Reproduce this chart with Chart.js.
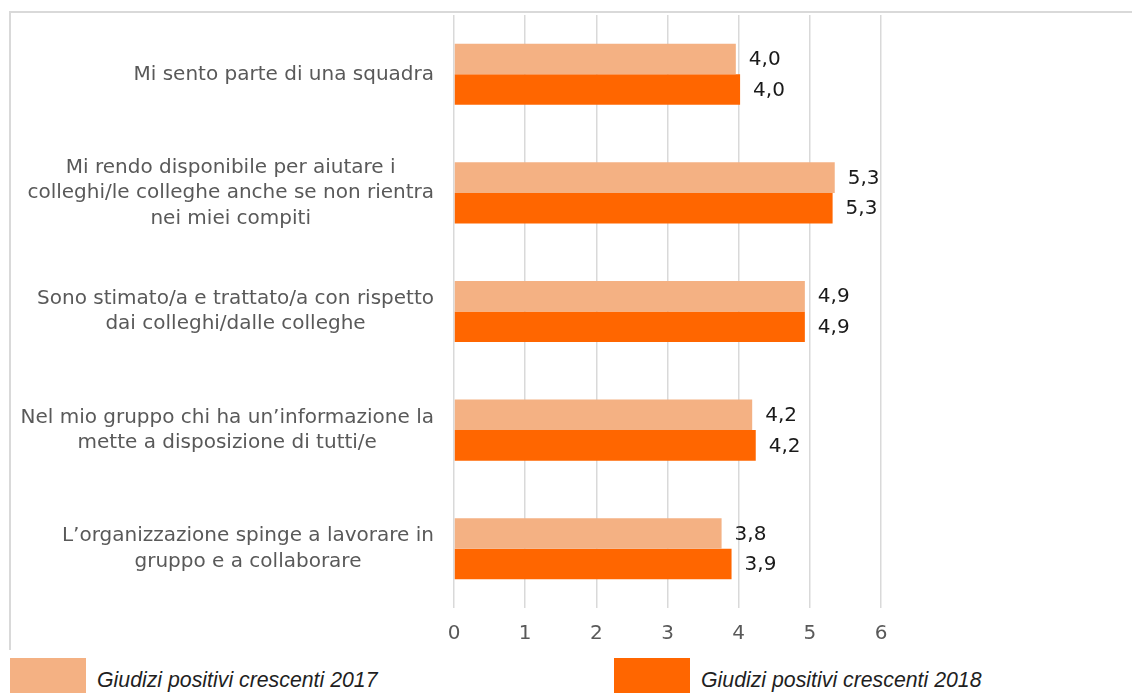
<!DOCTYPE html>
<html lang="it">
<head>
<meta charset="utf-8">
<title>Giudizi positivi crescenti</title>
<script src="https://cdn.jsdelivr.net/npm/chart.js@4/dist/chart.umd.min.js"></script>
<style>
    html, body {
        margin: 0;
        padding: 0;
        background: #ffffff;
        width: 1132px;
        height: 693px;
        overflow: hidden;
        position: relative;
    }

    #wrap {
        position: absolute;
        left: 0;
        top: 0;
        width: 1132px;
        height: 650px;
    }

    .legend-item {
        position: absolute;
        top: 658px;
        height: 36px;
    }

    .legend-box {
        position: absolute;
        left: 0;
        top: 0;
        width: 76px;
        height: 40px;
    }

    .legend-text {
        position: absolute;
        left: 87px;
        top: 10px;
        white-space: nowrap;
        font-family: "Liberation Sans", Arial, sans-serif;
        font-style: italic;
        font-size: 21.3px;
        color: #1f1f1f;
    }
</style>
</head>
<body>

<div id="wrap">
    <canvas id="chart" width="1132" height="650"></canvas>
</div>

<div id="legend"></div>

<script>
/*
|--------------------------------------------------------------------------
| Dati
|--------------------------------------------------------------------------
*/

const categories = [
    ["Mi sento parte di una squadra"],
    ["Mi rendo disponibile per aiutare i", "colleghi/le colleghe anche se non rientra", "nei miei compiti"],
    ["Sono stimato/a e trattato/a con rispetto", "dai colleghi/dalle colleghe"],
    ["Nel mio gruppo chi ha un\u2019informazione la", "mette a disposizione di tutti/e"],
    ["L\u2019organizzazione spinge a lavorare in", "gruppo e a collaborare"]
];

const values2017 = [3.96, 5.35, 4.93, 4.19, 3.76];

const values2018 = [4.02, 5.32, 4.93, 4.24, 3.90];

const seriesNames = ["Giudizi positivi crescenti 2017", "Giudizi positivi crescenti 2018"];

const seriesColors = ["#F4B183", "#FF6600"];

const tickValues = [0, 1, 2, 3, 4, 5, 6];


/*
|--------------------------------------------------------------------------
| Plugin: cornice, etichette categorie, etichette valori
|--------------------------------------------------------------------------
*/

const framePlugin = {

    id: "frame",

    beforeDraw(chart) {

        const ctx = chart.ctx;

        ctx.save();
        ctx.strokeStyle = "#d9d9d9";
        ctx.lineWidth = 2;
        ctx.beginPath();
        ctx.moveTo(10, 650);
        ctx.lineTo(10, 12);
        ctx.lineTo(1132, 12);
        ctx.stroke();
        ctx.restore();

    }

};

const categoryLabelsPlugin = {

    id: "categoryLabels",

    afterDraw(chart) {

        const ctx = chart.ctx;
        const yScale = chart.scales.y;
        const lineHeight = 25.5;
        const right = 434;

        ctx.save();
        ctx.font = "20px 'DejaVu Sans', Verdana, sans-serif";
        ctx.fillStyle = "#595959";
        ctx.textBaseline = "middle";
        ctx.textAlign = "center";

        chart.data.labels.forEach((lines, i) => {

            const cy = yScale.getPixelForTick(i);
            const widest = Math.max(...lines.map((l) => ctx.measureText(l).width));
            const cx = right - widest / 2;
            const startY = cy - ((lines.length - 1) * lineHeight) / 2;

            lines.forEach((line, j) => {
                ctx.fillText(line, cx, startY + j * lineHeight);
            });

        });

        ctx.restore();

    }

};

const valueLabelsPlugin = {

    id: "valueLabels",

    afterDatasetsDraw(chart) {

        const ctx = chart.ctx;

        ctx.save();
        ctx.font = "20px 'DejaVu Sans', Verdana, sans-serif";
        ctx.fillStyle = "#1a1a1a";
        ctx.textBaseline = "middle";
        ctx.textAlign = "left";

        chart.data.datasets.forEach((dataset, d) => {

            const meta = chart.getDatasetMeta(d);

            meta.data.forEach((bar, i) => {

                const text = dataset.data[i].toFixed(1).replace(".", ",");
                ctx.fillText(text, bar.x + 13, bar.y + 1);

            });

        });

        ctx.restore();

    }

};


/*
|--------------------------------------------------------------------------
| Grafico
|--------------------------------------------------------------------------
*/

const chart = new Chart(document.getElementById("chart"), {

    type: "bar",

    data: {

        labels: categories,

        datasets: [

            {
                label: seriesNames[0],
                data: values2017,
                backgroundColor: seriesColors[0],
                borderWidth: 0
            },

            {
                label: seriesNames[1],
                data: values2018,
                backgroundColor: seriesColors[1],
                borderWidth: 0
            }

        ]

    },

    options: {

        indexAxis: "y",

        responsive: false,

        animation: false,

        layout: {
            padding: { left: 0, right: 251, top: 15, bottom: 0 }
        },

        datasets: {
            bar: {
                categoryPercentage: 0.515,
                barPercentage: 1
            }
        },

        plugins: {
            legend: { display: false },
            tooltip: { enabled: false }
        },

        scales: {

            x: {
                min: 0,
                max: 6,
                afterBuildTicks(scale) {
                    scale.ticks = tickValues.map((v) => ({ value: v }));
                },
                afterFit(scale) {
                    scale.height = 42;
                },
                grid: {
                    color: "#d9d9d9",
                    lineWidth: 1.5,
                    drawTicks: false
                },
                border: { display: false },
                ticks: {
                    padding: 14,
                    color: "#595959",
                    font: { family: "'DejaVu Sans', Verdana, sans-serif", size: 20 }
                }
            },

            y: {
                afterFit(scale) {
                    scale.width = 454;
                },
                grid: { display: false },
                border: { display: false },
                ticks: { display: false }
            }

        }

    },

    plugins: [framePlugin, categoryLabelsPlugin, valueLabelsPlugin]

});


/*
|--------------------------------------------------------------------------
| Legenda
|--------------------------------------------------------------------------
*/

const legendLeft = [10, 614];

chart.data.datasets.forEach((ds, i) => {

    const item = document.createElement("div");
    item.className = "legend-item";
    item.style.left = legendLeft[i] + "px";

    const box = document.createElement("div");
    box.className = "legend-box";
    box.style.background = ds.backgroundColor;

    const text = document.createElement("div");
    text.className = "legend-text";
    text.textContent = ds.label;

    item.appendChild(box);
    item.appendChild(text);
    document.getElementById("legend").appendChild(item);

});
</script>

</body>
</html>
